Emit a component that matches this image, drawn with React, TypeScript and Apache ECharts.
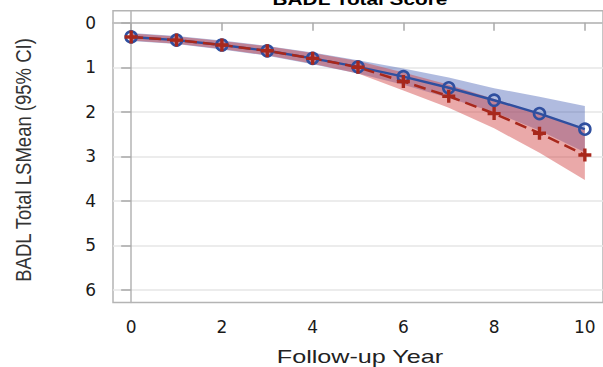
import React, { useEffect, useRef } from "react";
import * as echarts from "echarts";

const years = [0, 1, 2, 3, 4, 5, 6, 7, 8, 9, 10];
const xTickValues = [0, 2, 4, 6, 8, 10];
const yTickValues = [0, 1, 2, 3, 4, 5, 6];

const blueMean = [0.32, 0.39, 0.5, 0.63, 0.8, 0.99, 1.21, 1.46, 1.74, 2.04, 2.39];
const blueUpper = [0.23, 0.3, 0.4, 0.52, 0.67, 0.84, 1.03, 1.23, 1.47, 1.66, 1.87];
const blueLower = [0.41, 0.48, 0.6, 0.74, 0.93, 1.14, 1.39, 1.69, 2.01, 2.42, 2.91];

const redMean = [0.32, 0.39, 0.5, 0.63, 0.8, 1.0, 1.32, 1.65, 2.04, 2.48, 2.97];
const redUpper = [0.24, 0.31, 0.41, 0.53, 0.68, 0.86, 1.12, 1.39, 1.71, 2.04, 2.41];
const redLower = [0.4, 0.47, 0.59, 0.73, 0.92, 1.14, 1.52, 1.91, 2.37, 2.92, 3.53];

const title = "BADL Total Score";
const xName = "Follow-up Year";
const yName = "BADL Total LSMean (95% CI)";

const BLUE = "#2f4f9f";
const RED = "#a8281c";
const PLUS = "path://M3.7,0H6.3V3.7H10V6.3H6.3V10H3.7V6.3H0V3.7H3.7Z";

export default function App() {
  const ref = useRef<HTMLDivElement>(null);
  useEffect(() => {
    if (!ref.current) return;
    const chart = echarts.init(ref.current, null, { renderer: "svg" });
    const pairs = (arr: number[]) => years.map((y, i) => [y, arr[i]]);
    const bandData = (up: number[], lo: number[]) => years.map((y, i) => [y, up[i], lo[i]]);
    const font = "'Liberation Sans', Arial, sans-serif";
    const tickFont = "'DejaVu Sans', 'Liberation Sans', sans-serif";

    const bandSeries = (up: number[], lo: number[], color: string) => ({
      type: "custom",
      data: bandData(up, lo),
      encode: { x: 0, y: [1, 2] },
      silent: true,
      renderItem: (params: any, api: any) => {
        if (params.dataIndex !== 0) return null;
        const top = years.map((y, i) => api.coord([y, up[i]]));
        const bottom = years.map((y, i) => api.coord([y, lo[i]])).reverse();
        return {
          type: "polygon",
          shape: { points: top.concat(bottom) },
          style: { fill: color },
        };
      },
    });

    chart.setOption({
      animation: false,
      backgroundColor: "#ffffff",
      grid: {
        left: 113,
        top: 10.7,
        width: 494,
        height: 291.8,
        show: true,
        borderColor: "#b4b4b4",
        borderWidth: 1.5,
        containLabel: false,
      },
      graphic: [
        {
          type: "text",
          x: 360,
          y: -9,
          scaleX: 1.3,
          style: {
            text: title,
            font: `bold 16px ${font}`,
            fill: "#000",
            textAlign: "center",
            textVerticalAlign: "top",
          },
        },
        {
          type: "text",
          x: 360,
          y: 357,
          scaleX: 1.36,
          style: {
            text: xName,
            font: `18.5px ${font}`,
            fill: "#222",
            textAlign: "center",
            textVerticalAlign: "middle",
          },
        },
        {
          type: "text",
          x: 23,
          y: 160,
          rotation: Math.PI / 2,
          scaleX: 1,
          scaleY: 1.2,
          style: {
            text: yName,
            font: `18.5px ${font}`,
            fill: "#333",
            textAlign: "center",
            textVerticalAlign: "middle",
          },
        },
      ],
      xAxis: {
        type: "value",
        min: -0.4,
        max: 10.4,
        axisLine: { show: true, lineStyle: { color: "#b4b4b4", width: 1.5 } },
        axisTick: { show: true, length: 8, customValues: xTickValues, lineStyle: { color: "#aaa", width: 1.5 } },
        axisLabel: { customValues: xTickValues, margin: 16, fontFamily: tickFont, fontSize: 17, color: "#1a1a1a" },
        splitLine: { show: false },
      },
      yAxis: {
        type: "value",
        inverse: true,
        min: -0.27,
        max: 6.28,
        axisLine: { show: true, lineStyle: { color: "#b4b4b4", width: 1.5 } },
        axisTick: { show: true, length: 10, customValues: yTickValues, lineStyle: { color: "#aaa", width: 1.5 } },
        axisLabel: { customValues: yTickValues, margin: 17, fontFamily: tickFont, fontSize: 17, color: "#1a1a1a" },
        splitLine: { show: true, lineStyle: { color: "#e6e6e6", width: 1.5 } },
      },
      series: [
        bandSeries(blueUpper, blueLower, "rgba(58,86,176,0.4)"),
        bandSeries(redUpper, redLower, "rgba(208,64,64,0.45)"),
        {
          type: "line",
          data: pairs(blueMean),
          symbol: "circle",
          symbolSize: 11,
          lineStyle: { color: BLUE, width: 2.4 },
          itemStyle: { color: "rgba(0,0,0,0)", borderColor: BLUE, borderWidth: 2.6 },
        },
        {
          type: "line",
          data: pairs(redMean),
          symbol: PLUS,
          symbolSize: 13,
          lineStyle: { color: RED, width: 2.5, type: [12, 6] },
          itemStyle: { color: RED, borderWidth: 0 },
        },
      ],
    });
    return () => chart.dispose();
  }, []);
  return (
    <div
      ref={ref}
      style={{ position: "absolute", left: 0, top: 0, width: 603, height: 367 }}
    />
  );
}
